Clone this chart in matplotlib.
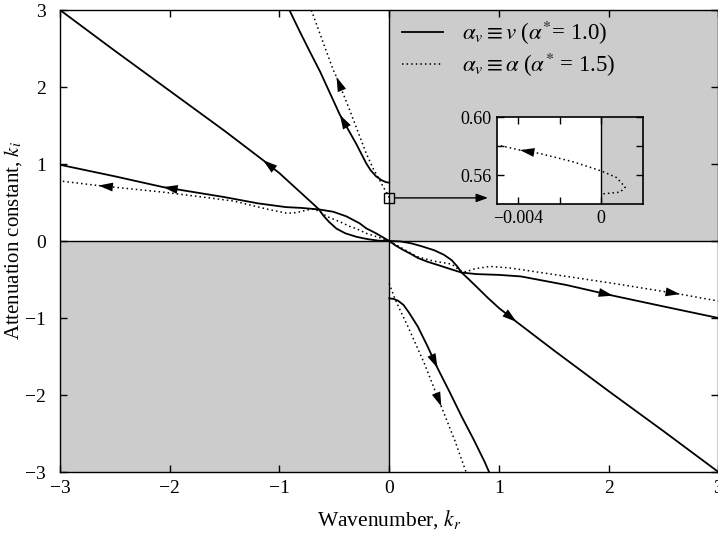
import matplotlib.pyplot as plt

plt.rcParams.update({
    'font.family': 'Liberation Serif',
    'mathtext.fontset': 'stix',
    'font.size': 12,
})

# branches for alpha_v = v (solid), ordered from the origin outward
a_left_x = [0, -0.1, -0.2, -0.3, -0.4, -0.48, -0.55, -0.6, -0.64, -0.7, -0.8, -0.9, -1.0, -1.15, -1.5, -2.0, -2.5, -3.0]
a_left_y = [0, 0.005, 0.025, 0.055, 0.10, 0.16, 0.25, 0.33, 0.41, 0.49, 0.62, 0.75, 0.88, 1.05, 1.43, 1.95, 2.47, 3.0]
b_left_x = [0, -0.06, -0.12, -0.21, -0.27, -0.39, -0.51, -0.64, -0.8, -0.94, -1.2, -1.5, -2.06, -2.5, -3.0]
b_left_y = [0, 0.05, 0.10, 0.165, 0.23, 0.32, 0.38, 0.41, 0.43, 0.44, 0.49, 0.57, 0.70, 0.84, 0.99]
c_left_x = [0, -0.03, -0.07, -0.12, -0.17, -0.21, -0.3, -0.45, -0.54, -0.63, -0.72, -0.815, -0.91]
c_left_y = [0.757, 0.765, 0.79, 0.84, 0.92, 1.01, 1.26, 1.64, 1.92, 2.2, 2.45, 2.72, 3.0]

a_right_x = [0, 0.1, 0.2, 0.3, 0.41, 0.5, 0.57, 0.62, 0.66, 0.72, 0.8, 0.9, 1.0, 1.16, 1.5, 2.0, 2.5, 3.0]
a_right_y = [0, -0.005, -0.03, -0.07, -0.12, -0.18, -0.25, -0.33, -0.41, -0.49, -0.6, -0.74, -0.87, -1.05, -1.42, -1.95, -2.47, -3.0]
b_right_x = [0, 0.06, 0.12, 0.2, 0.26, 0.35, 0.44, 0.57, 0.66, 0.8, 1.0, 1.2, 1.61, 2.04, 2.5, 3.0]
b_right_y = [0, -0.06, -0.11, -0.17, -0.22, -0.27, -0.31, -0.37, -0.41, -0.43, -0.44, -0.46, -0.57, -0.71, -0.85, -1.0]
c_right_x = [0, 0.04, 0.08, 0.13, 0.18, 0.26, 0.35, 0.44, 0.55, 0.66, 0.77, 0.87, 0.91]
c_right_y = [-0.745, -0.752, -0.775, -0.83, -0.93, -1.11, -1.37, -1.65, -1.96, -2.28, -2.58, -2.87, -3.0]

# branches for alpha_v = alpha (dotted)
d_left_x = [0, -0.1, -0.21, -0.3, -0.36, -0.45, -0.57, -0.64, -0.70, -0.76, -0.84, -0.93, -1.1, -1.42, -2.03, -2.65, -3.0]
d_left_y = [0, 0.05, 0.10, 0.16, 0.19, 0.25, 0.32, 0.39, 0.415, 0.40, 0.37, 0.36, 0.41, 0.52, 0.63, 0.72, 0.78]
e_left_x = [0, -0.02, -0.056, -0.087, -0.15, -0.21, -0.36, -0.48, -0.51, -0.6, -0.71]
e_left_y = [0.565, 0.62, 0.705, 0.79, 0.95, 1.14, 1.70, 2.13, 2.22, 2.57, 3.0]

d_right_x = [0, 0.1, 0.25, 0.4, 0.57, 0.64, 0.7, 0.78, 0.92, 1.1, 1.43, 2.04, 2.65, 3.0]
d_right_y = [0, -0.08, -0.2, -0.26, -0.30, -0.38, -0.40, -0.36, -0.33, -0.35, -0.42, -0.55, -0.69, -0.78]
e_right_x = [0, 0.02, 0.05, 0.1, 0.17, 0.32, 0.475, 0.6, 0.70]
e_right_y = [-0.55, -0.63, -0.745, -0.9, -1.11, -1.59, -2.15, -2.6, -3.0]

# close-up of the dotted branch near k_r = 0
zoom_x = [0.0001, 0.0009, 0.00115, 0.00074, 0, -0.00135, -0.00296, -0.0039, -0.00498]
zoom_y = [0.547, 0.5482, 0.5516, 0.5582, 0.5628, 0.5691, 0.5749, 0.5772, 0.5807]

solid = dict(color='k', lw=1.3, linestyle='-')
dotted = dict(color='k', lw=1.1, linestyle=(0, (1, 2)))
shade = '#cccccc'


def branch(ax, xs, ys, style, tip):
    ax.plot(xs, ys, zorder=3, **style)
    ax.annotate('', xy=(xs[tip], ys[tip]), xytext=(xs[tip - 1], ys[tip - 1]),
                arrowprops=dict(arrowstyle='-|>,head_length=0.65,head_width=0.2',
                                color='k', lw=0, mutation_scale=16,
                                shrinkA=0, shrinkB=0), zorder=4)


fig = plt.figure(figsize=(7.18, 5.36), dpi=100)
ax = fig.add_axes([0.0836, 0.1194, 0.9170, 0.8619])

ax.fill_between([0, 3], 0, 3, color=shade, lw=0, zorder=0)
ax.fill_between([-3, 0], -3, 0, color=shade, lw=0, zorder=0)
ax.axhline(0, color='k', lw=1, zorder=1)
ax.axvline(0, color='k', lw=1, zorder=1)

branch(ax, a_left_x, a_left_y, solid, 13)
branch(ax, b_left_x, b_left_y, solid, 12)
branch(ax, c_left_x, c_left_y, solid, 7)
branch(ax, a_right_x, a_right_y, solid, 13)
branch(ax, b_right_x, b_right_y, solid, 13)
branch(ax, c_right_x, c_right_y, solid, 7)
branch(ax, d_left_x, d_left_y, dotted, 15)
branch(ax, e_left_x, e_left_y, dotted, 7)
branch(ax, d_right_x, d_right_y, dotted, 12)
branch(ax, e_right_x, e_right_y, dotted, 6)

ax.plot([], [], label=r'$\alpha_v \equiv v$ ($\alpha^{*}$= 1.0)', **solid)
ax.plot([], [], label=r'$\alpha_v \equiv \alpha$ ($\alpha^{*}$ = 1.5)', **dotted)
ax.legend(loc='upper left', bbox_to_anchor=(0.52, 0.98), frameon=False,
          handlelength=1.75, handletextpad=0.85, labelspacing=0.15,
          borderpad=0, borderaxespad=0, fontsize=16.5)

# marker for the zoomed region and pointer to the inset
ax.plot([0], [0.56], 's', mfc='none', mec='k', ms=7, mew=1, zorder=5)
ax.annotate('', xy=(0.9, 0.56), xytext=(0.05, 0.56),
            arrowprops=dict(arrowstyle='-|>,head_length=0.5,head_width=0.18',
                            color='k', lw=1, mutation_scale=14,
                            shrinkA=0, shrinkB=0), zorder=5)

ax.set_xlim(-3, 3)
ax.set_ylim(-3, 3)
ax.set_xticks([-3, -2, -1, 0, 1, 2, 3])
ax.set_yticks([-3, -2, -1, 0, 1, 2, 3])
ax.tick_params(direction='in', top=True, right=True, length=5, width=1,
               labelsize=14, pad=6)
ax.tick_params(axis='y', pad=10)
ax.set_xlabel('Wavenumber, $k_r$', fontsize=15.5, labelpad=8)
ax.set_ylabel('Attenuation constant, $k_i$', fontsize=15, labelpad=1)
for s in ax.spines.values():
    s.set_linewidth(1)

# inset
ins = fig.add_axes([0.6922, 0.6194, 0.2033, 0.1623])
ins.set_facecolor('white')
ins.axvspan(0, 0.002, color=shade, lw=0, zorder=0)
ins.axvline(0, color='k', lw=1, zorder=1)
ins.plot(zoom_x, zoom_y, zorder=3, **dotted)
ins.annotate('', xy=(zoom_x[7], zoom_y[7]), xytext=(zoom_x[6], zoom_y[6]),
             arrowprops=dict(arrowstyle='-|>,head_length=0.65,head_width=0.2',
                             color='k', lw=0, mutation_scale=16,
                             shrinkA=0, shrinkB=0), zorder=4)
ins.set_xlim(-0.005, 0.002)
ins.set_ylim(0.54, 0.60)
ins.set_xticks([-0.004, -0.002, 0])
ins.set_xticklabels(['\u22120.004', '', '0'])
ins.set_yticks([0.56, 0.58, 0.60])
ins.set_yticklabels(['0.56', '', '0.60'])
ins.tick_params(direction='in', top=True, right=True, length=5, width=1,
                labelsize=13, pad=4)
for s in ins.spines.values():
    s.set_linewidth(1.2)

fig.savefig('out.png', dpi=100)
